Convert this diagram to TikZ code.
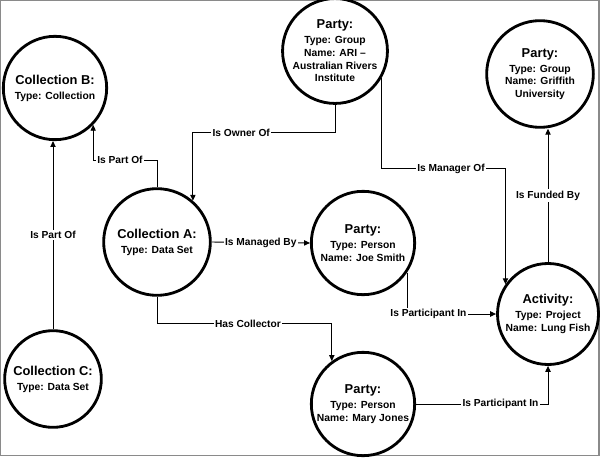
\documentclass[tikz,border=0pt]{standalone}
\usepackage{fontspec}
\setmainfont{Liberation Sans}
\usepackage{xcolor}
\usepackage{tikz}
\usetikzlibrary{arrows.meta}
\definecolor{cLine}{HTML}{000000}
\definecolor{cFrame}{HTML}{8A8A8A}
\newcommand{\hd}[1]{{\fontsize{11}{13.5}\selectfont #1}}
\tikzset{
  ent/.style={circle, draw=cLine, line width=2.4pt, fill=white,
              minimum size=3.1cm, inner sep=0pt, align=center, text=black,
              font=\bfseries\fontsize{8.8}{10.8}\selectfont},
  rel/.style={-{Triangle[length=5pt, width=4.5pt]}, line width=0.8pt, draw=cLine},
  lbl/.style={font=\bfseries\fontsize{8.7}{10}\selectfont, fill=white, inner sep=1.3pt},
  rim/.style={draw=cFrame, line width=0.9pt},
}

\begin{document}
\begin{tikzpicture}[x=0.03cm, y=-0.03cm]
  \useasboundingbox (0,0) rectangle (600,457);
  \draw[rim] (0.5,0.5) rectangle (599,455.5);

  \node[ent] (colB) at (55,88) {\hd{Collection B:}\\[2pt]Type: Collection};
  \node[ent, minimum size=2.9cm] (ari) at (335,51) {\hd{Party:}\\[2pt]Type: Group\\Name: ARI --\\Australian Rivers\\Institute};
  \node[ent, minimum size=3.2cm] (grif) at (540,74) {\hd{Party:}\\[2pt]Type: Group\\Name: Griffith\\University};
  \node[ent, minimum size=3.2cm] (colA) at (157,242) {\hd{Collection A:}\\[2pt]Type: Data Set};
  \node[ent] (joe) at (363,243) {\hd{Party:}\\[2pt]Type: Person\\Name: Joe Smith};
  \node[ent, minimum size=3.03cm] (act) at (548,314) {\hd{Activity:}\\[2pt]Type: Project\\Name: Lung Fish};
  \node[ent, minimum size=2.9cm] (colC) at (53,379) {\hd{Collection C:}\\[2pt]Type: Data Set};
  \node[ent] (mary) at (363,404) {\hd{Party:}\\[2pt]Type: Person\\Name: Mary Jones};

  \draw[rel] (colC.north) -- node[lbl] {Is Part Of} (colC.north |- colB.south);
  \draw[rel] (colA.north) -- ++(0,-27) -| node[lbl, pos=0.29] {Is Part Of} (colB.-44);
  \draw[rel] (ari.south) -- ++(0,28) -| node[lbl, pos=0.33] {Is Owner Of} (colA.49);
  \draw[rel] (ari.-30) -- ++(0,91) -| node[lbl, pos=0.28] {Is Manager Of} (act.145);
  \draw[rel] (act.north) -- node[lbl] {Is Funded By} (act.north |- grif.south);
  \draw[rel] (colA.east) -- node[lbl] {Is Managed By} (joe.west);
  \draw[rel] (colA.south) -- ++(0,27) -| node[lbl, pos=0.26] {Has Collector} (mary.126);
  \draw[rel] (joe.-34) |- node[lbl, pos=0.62] {Is Participant In} (act.west);
  \draw[rel] (mary.east) -| node[lbl, pos=0.32] {Is Participant In} (act.south);
\end{tikzpicture}
\end{document}
